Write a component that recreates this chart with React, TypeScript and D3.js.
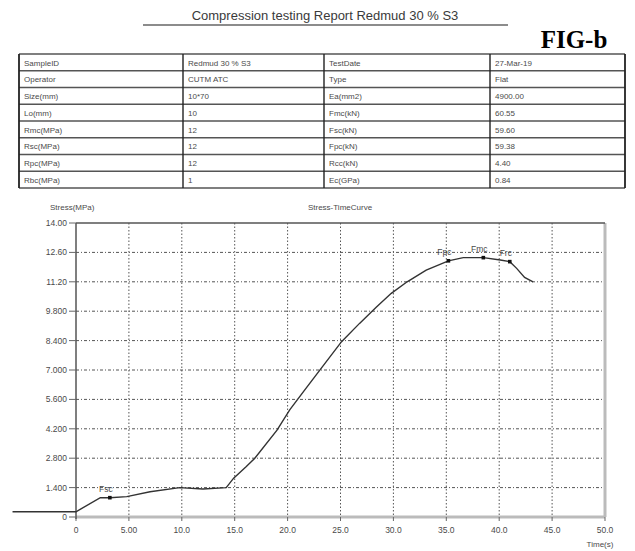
import React from "react";
import * as d3 from "d3";

const titleText = "Compression testing Report Redmud 30 % S3";
const figLabel = "FIG-b";

const tableCol1 = ["SampleID", "Operator", "Size(mm)", "Lo(mm)", "Rmc(MPa)", "Rsc(MPa)", "Rpc(MPa)", "Rbc(MPa)"];
const tableCol2 = ["Redmud 30 % S3", "CUTM ATC", "10*70", "10", "12", "12", "12", "1"];
const tableCol3 = ["TestDate", "Type", "Ea(mm2)", "Fmc(kN)", "Fsc(kN)", "Fpc(kN)", "Rcc(kN)", "Ec(GPa)"];
const tableCol4 = ["27-Mar-19", "Flat", "4900.00", "60.55", "59.60", "59.38", "4.40", "0.84"];

const xTicks = [0, 5, 10, 15, 20, 25, 30, 35, 40, 45, 50];
const xTickLabels = ["0", "5.00", "10.0", "15.0", "20.0", "25.0", "30.0", "35.0", "40.0", "45.0", "50.0"];
const yTicks = [0, 1.4, 2.8, 4.2, 5.6, 7.0, 8.4, 9.8, 11.2, 12.6, 14.0];
const yTickLabels = ["0", "1.400", "2.800", "4.200", "5.600", "7.000", "8.400", "9.800", "11.20", "12.60", "14.00"];

const timeS = [-6, 0, 2.3, 3.2, 4.8, 7.0, 9.8, 12.0, 14.2, 14.9, 16.1, 16.9, 19.0, 20.2, 21.5, 23.1, 25.1, 26.8, 28.4, 29.8, 31.3, 33.1, 35.2, 36.6, 38.5, 40.1, 41.0, 41.65, 42.4, 43.2];
const stressMPa = [0.25, 0.25, 0.92, 0.92, 0.97, 1.2, 1.4, 1.33, 1.4, 1.85, 2.4, 2.8, 4.14, 5.1, 5.97, 7.03, 8.35, 9.22, 10.0, 10.65, 11.2, 11.76, 12.2, 12.35, 12.35, 12.24, 12.16, 11.84, 11.41, 11.2];

const markerNames = ["Fsc", "Fpc", "Fmc", "Frc"];
const markerTime = [3.2, 35.2, 38.5, 41.0];
const markerStress = [0.92, 12.2, 12.35, 12.16];

export default function App() {
  const W = 635, H = 551;
  const left = 76, right = 605, top = 223, bottom = 517;
  const x = d3.scaleLinear().domain([0, 50]).range([left, right]);
  const y = d3.scaleLinear().domain([0, 14]).range([bottom, top]);
  const line = d3.line<number>().x((_, i) => x(timeS[i])).y((_, i) => y(stressMPa[i])).curve(d3.curveLinear);
  const pathD = line(stressMPa) || "";

  const tX = [19, 183, 324, 490, 625];
  const tTop = 54, rowH = 16.75;
  const cols = [tableCol1, tableCol2, tableCol3, tableCol4];
  const font = "Liberation Sans, Arial, sans-serif";
  const txt = "#4a4a4a";
  const grid = "#555";

  return (
    <svg width={W} height={H} style={{ position: "absolute", left: 0, top: 0, background: "#fff" }} fontFamily={font}>
      <rect x={0} y={0} width={W} height={H} fill="#fff" />
      <text x={325} y={20} textAnchor="middle" fontSize={13} fill="#3a3a3a">{titleText}</text>
      <line x1={143} x2={508} y1={25} y2={25} stroke="#666" strokeWidth={1.3} />
      <text x={574} y={48} textAnchor="middle" fontSize={25} fontWeight="bold" fontFamily="Liberation Serif, Times New Roman, serif" fill="#000">{figLabel}</text>

      {/* table */}
      {d3.range(9).map(i => (
        <line key={"h" + i} x1={tX[0]} x2={tX[4]} y1={tTop + i * rowH} y2={tTop + i * rowH} stroke="#555" strokeWidth={1.3} />
      ))}
      {tX.map((cx, i) => (
        <line key={"v" + i} x1={cx} x2={cx} y1={tTop} y2={tTop + 8 * rowH} stroke="#222" strokeWidth={i === 0 || i === 4 ? 1.8 : 1.4} />
      ))}
      {cols.map((col, ci) => col.map((s, ri) => (
        <text key={"t" + ci + "_" + ri} x={tX[ci] + 5} y={tTop + ri * rowH + 11.5} fontSize={8} fill={txt}>{s}</text>
      )))}

      {/* chart labels */}
      <text x={50} y={210} fontSize={8} fill={txt}>Stress(MPa)</text>
      <text x={340} y={210} textAnchor="middle" fontSize={8} fill={txt}>Stress-TimeCurve</text>
      <text x={600} y={547} textAnchor="middle" fontSize={8} fill={txt}>Time(s)</text>

      {/* grid */}
      {yTicks.slice(1, -1).map((v, i) => (
        <line key={"gy" + i} x1={left} x2={right} y1={y(v)} y2={y(v)} stroke={grid} strokeWidth={1} strokeDasharray="3,2,1,2" />
      ))}
      {xTicks.slice(1, -1).map((v, i) => (
        <line key={"gx" + i} x1={x(v)} x2={x(v)} y1={top} y2={bottom} stroke={grid} strokeWidth={1} strokeDasharray="1.5,2" />
      ))}

      {/* frame */}
      <line x1={right} x2={right} y1={top} y2={bottom} stroke="#bbb" strokeWidth={3} />
      <line x1={left} x2={right} y1={bottom} y2={bottom} stroke="#bbb" strokeWidth={3} />
      <line x1={left} x2={right} y1={top} y2={top} stroke="#555" strokeWidth={1.3} />
      <line x1={left} x2={left} y1={top} y2={bottom + 2} stroke="#555" strokeWidth={1.5} />

      {/* y ticks */}
      {yTicks.map((v, i) => (
        <g key={"yt" + i}>
          <line x1={left - 7} x2={left} y1={y(v)} y2={y(v)} stroke="#666" strokeWidth={1} />
          <text x={left - 9} y={y(v) + 3} textAnchor="end" fontSize={8.5} fill={txt}>{yTickLabels[i]}</text>
        </g>
      ))}
      {/* x ticks */}
      {xTicks.map((v, i) => (
        <g key={"xt" + i}>
          <line x1={x(v)} x2={x(v)} y1={bottom} y2={bottom + 4} stroke="#666" strokeWidth={1} />
          <text x={x(v)} y={bottom + 16} textAnchor="middle" fontSize={8.5} fill={txt}>{xTickLabels[i]}</text>
        </g>
      ))}

      {/* curve */}
      <path d={pathD} fill="none" stroke="#333" strokeWidth={1.4} />
      {markerNames.map((n, i) => (
        <g key={"m" + i}>
          <rect x={x(markerTime[i]) - 1.8} y={y(markerStress[i]) - 1.8} width={3.6} height={3.6} fill="#111" />
          <text x={x(markerTime[i]) - 4} y={y(markerStress[i]) - 6} textAnchor="middle" fontSize={8.5} fill={txt}>{n}</text>
        </g>
      ))}
    </svg>
  );
}
